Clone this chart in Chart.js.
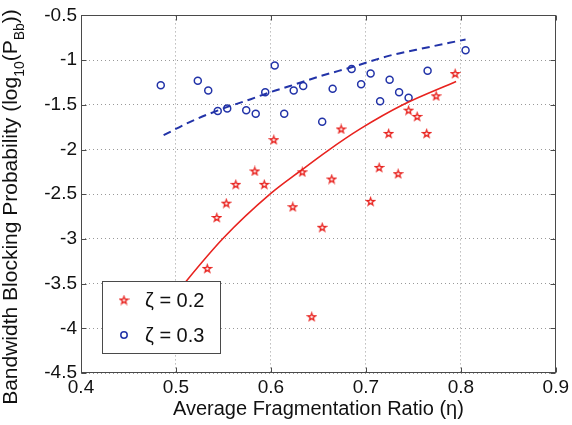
<!DOCTYPE html>
<html><head><meta charset="utf-8">
<script src="https://cdn.jsdelivr.net/npm/chart.js@4/dist/chart.umd.min.js"></script>
<style>html,body{margin:0;padding:0;background:#fff;}canvas{display:block;}</style>
</head><body>
<canvas id="c" width="572" height="425"></canvas>
<script>
// ---- data ----
const zeta02X = [0.533,0.543,0.553,0.563,0.583,0.593,0.603,0.623,0.633,0.643,0.654,0.664,0.674,0.705,0.714,0.724,0.734,0.745,0.754,0.764,0.774,0.794];
const zeta02Y = [-3.33,-2.76,-2.60,-2.39,-2.24,-2.39,-1.89,-2.64,-2.25,-3.87,-2.87,-2.33,-1.77,-2.58,-2.20,-1.82,-2.27,-1.56,-1.63,-1.82,-1.40,-1.15];
const zeta03X = [0.484,0.523,0.534,0.544,0.554,0.574,0.584,0.594,0.604,0.614,0.624,0.634,0.654,0.665,0.685,0.695,0.705,0.715,0.725,0.735,0.745,0.765,0.805];
const zeta03Y = [-1.28,-1.23,-1.34,-1.57,-1.54,-1.56,-1.60,-1.36,-1.06,-1.60,-1.34,-1.29,-1.69,-1.32,-1.10,-1.27,-1.15,-1.46,-1.22,-1.36,-1.42,-1.12,-0.89];
const fit02X = [0.485,0.511,0.550,0.599,0.631,0.659,0.694,0.739,0.795];
const fit02Y = [-3.82,-3.47,-2.99,-2.50,-2.24,-2.02,-1.77,-1.50,-1.24];
const fit03X = [0.487,0.515,0.550,0.578,0.599,0.620,0.655,0.685,0.725,0.753,0.788,0.805];
const fit03Y = [-1.84,-1.69,-1.54,-1.44,-1.36,-1.29,-1.17,-1.08,-0.95,-0.885,-0.806,-0.77];
const seriesLabels = ['\u03B6 = 0.2', '\u03B6 = 0.3'];
const xTitle = 'Average Fragmentation Ratio (\u03B7)';
const yTitleParts = [['Bandwidth Blocking Probability (log',0],['10',1],['(P',0],['Bb',1],['))',0]];

const RED = '#e8231f', BLUE = '#2233a8';
const FONT = '"Liberation Sans", Arial, sans-serif';
const toPts = (xs, ys) => xs.map((x, i) => ({x, y: ys[i]}));

function makeStar(color, R, r) {
  const s = 11, c = document.createElement('canvas');
  c.width = s; c.height = s;
  const g = c.getContext('2d');
  g.strokeStyle = color; g.lineWidth = 1.3; g.lineJoin = 'miter';
  g.beginPath();
  for (let i = 0; i < 10; i++) {
    const a = -Math.PI / 2 + i * Math.PI / 5, rad = i % 2 ? r : R;
    const x = s / 2 + rad * Math.cos(a), y = s / 2 + 0.4 + rad * Math.sin(a);
    i ? g.lineTo(x, y) : g.moveTo(x, y);
  }
  g.closePath(); g.stroke();
  return c;
}
const starImg = makeStar(RED, 4.0, 1.6);
const fmt = v => String(Number(v.toFixed(2)));

const deco = {
  id: 'deco',
  afterDatasetsDraw(chart) {
    const {ctx, chartArea: a} = chart;
    const xs = chart.scales.x, ys = chart.scales.y;
    ctx.save();
    ctx.setLineDash([]);
    const L = Math.round(a.left) + 0.5, R = Math.round(a.right) - 0.5;
    const T = Math.round(a.top) + 0.5, B = Math.round(a.bottom) - 0.5;
    ctx.strokeStyle = '#4a4a4a'; ctx.lineWidth = 1;
    ctx.strokeRect(L, T, R - L, B - T);
    ctx.beginPath();
    xs.ticks.forEach(t => {
      const p = Math.round(xs.getPixelForValue(t.value)) + 0.5;
      ctx.moveTo(p, B); ctx.lineTo(p, B - 5);
      ctx.moveTo(p, T); ctx.lineTo(p, T + 5);
    });
    ys.ticks.forEach(t => {
      const p = Math.round(ys.getPixelForValue(t.value)) + 0.5;
      ctx.moveTo(L, p); ctx.lineTo(L + 5, p);
      ctx.moveTo(R, p); ctx.lineTo(R - 5, p);
    });
    ctx.stroke();

    // legend box
    const lx = Math.round(a.left) + 21, ly = Math.round(a.bottom) - 92, lw = 118, lh = 72;
    ctx.fillStyle = '#fff';
    ctx.fillRect(lx, ly, lw, lh);
    ctx.strokeStyle = '#4a4a4a';
    ctx.strokeRect(lx + 0.5, ly + 0.5, lw, lh);
    ctx.font = '20px ' + FONT;
    ctx.fillStyle = '#111'; ctx.textBaseline = 'middle'; ctx.textAlign = 'left';
    const r1 = ly + 19, r2 = ly + 54;
    ctx.drawImage(starImg, lx + 22 - starImg.width / 2, r1 - starImg.height / 2);
    ctx.fillText(seriesLabels[0], lx + 43, r1 + 1);
    ctx.beginPath(); ctx.strokeStyle = BLUE; ctx.lineWidth = 1.5;
    ctx.arc(lx + 22, r2, 3.2, 0, Math.PI * 2); ctx.stroke();
    ctx.fillText(seriesLabels[1], lx + 43, r2 + 1);

    // x title
    ctx.textAlign = 'center'; ctx.textBaseline = 'alphabetic';
    ctx.font = '20px ' + FONT;
    ctx.fillText(xTitle, (a.left + a.right) / 2, 415);

    // y title with subscripts
    ctx.translate(17, 207);
    ctx.rotate(-Math.PI / 2);
    const mainF = '21px ' + FONT, subF = '14px ' + FONT;
    let total = 0;
    yTitleParts.forEach(([t, sub]) => { ctx.font = sub ? subF : mainF; total += ctx.measureText(t).width; });
    let cx = -total / 2;
    ctx.textAlign = 'left';
    yTitleParts.forEach(([t, sub]) => {
      ctx.font = sub ? subF : mainF;
      ctx.fillText(t, cx, sub ? 7 : 0);
      cx += ctx.measureText(t).width;
    });
    ctx.restore();
  }
};

const tickFont = {family: FONT, size: 19};
new Chart(document.getElementById('c'), {
  type: 'scatter',
  data: {
    datasets: [
      {label: 'fit02', data: toPts(fit02X, fit02Y), showLine: true, borderColor: RED, borderWidth: 1.6,
       pointRadius: 0, cubicInterpolationMode: 'monotone', fill: false},
      {label: 'fit03', data: toPts(fit03X, fit03Y), showLine: true, borderColor: BLUE, borderWidth: 2,
       borderDash: [8, 5], pointRadius: 0, cubicInterpolationMode: 'monotone', fill: false},
      {label: seriesLabels[0], data: toPts(zeta02X, zeta02Y), pointStyle: starImg, pointRadius: 4,
       borderColor: RED, backgroundColor: RED},
      {label: seriesLabels[1], data: toPts(zeta03X, zeta03Y), pointStyle: 'circle', pointRadius: 3.5,
       borderWidth: 1.5, borderColor: BLUE, backgroundColor: 'rgba(0,0,0,0)'}
    ]
  },
  options: {
    responsive: false, animation: false, devicePixelRatio: 1,
    layout: {padding: {left: 0, right: 16, top: 13, bottom: 0}},
    plugins: {legend: {display: false}, tooltip: {enabled: false}},
    scales: {
      x: {type: 'linear', min: 0.4, max: 0.9,
          ticks: {stepSize: 0.1, padding: 3, color: '#111', font: tickFont, callback: fmt, maxRotation: 0, autoSkip: false},
          grid: {color: '#999999', drawTicks: false, lineWidth: 1},
          border: {display: false, dash: [1, 3]},
          afterFit(s) { s.height = 52; }},
      y: {type: 'linear', min: -4.5, max: -0.5,
          ticks: {stepSize: 0.5, padding: 4, color: '#111', font: tickFont, callback: fmt, autoSkip: false},
          grid: {color: '#999999', drawTicks: false, lineWidth: 1},
          border: {display: false, dash: [1, 3]},
          afterFit(s) { s.width = 81; }}
    }
  },
  plugins: [deco]
});
</script>
</body></html>
